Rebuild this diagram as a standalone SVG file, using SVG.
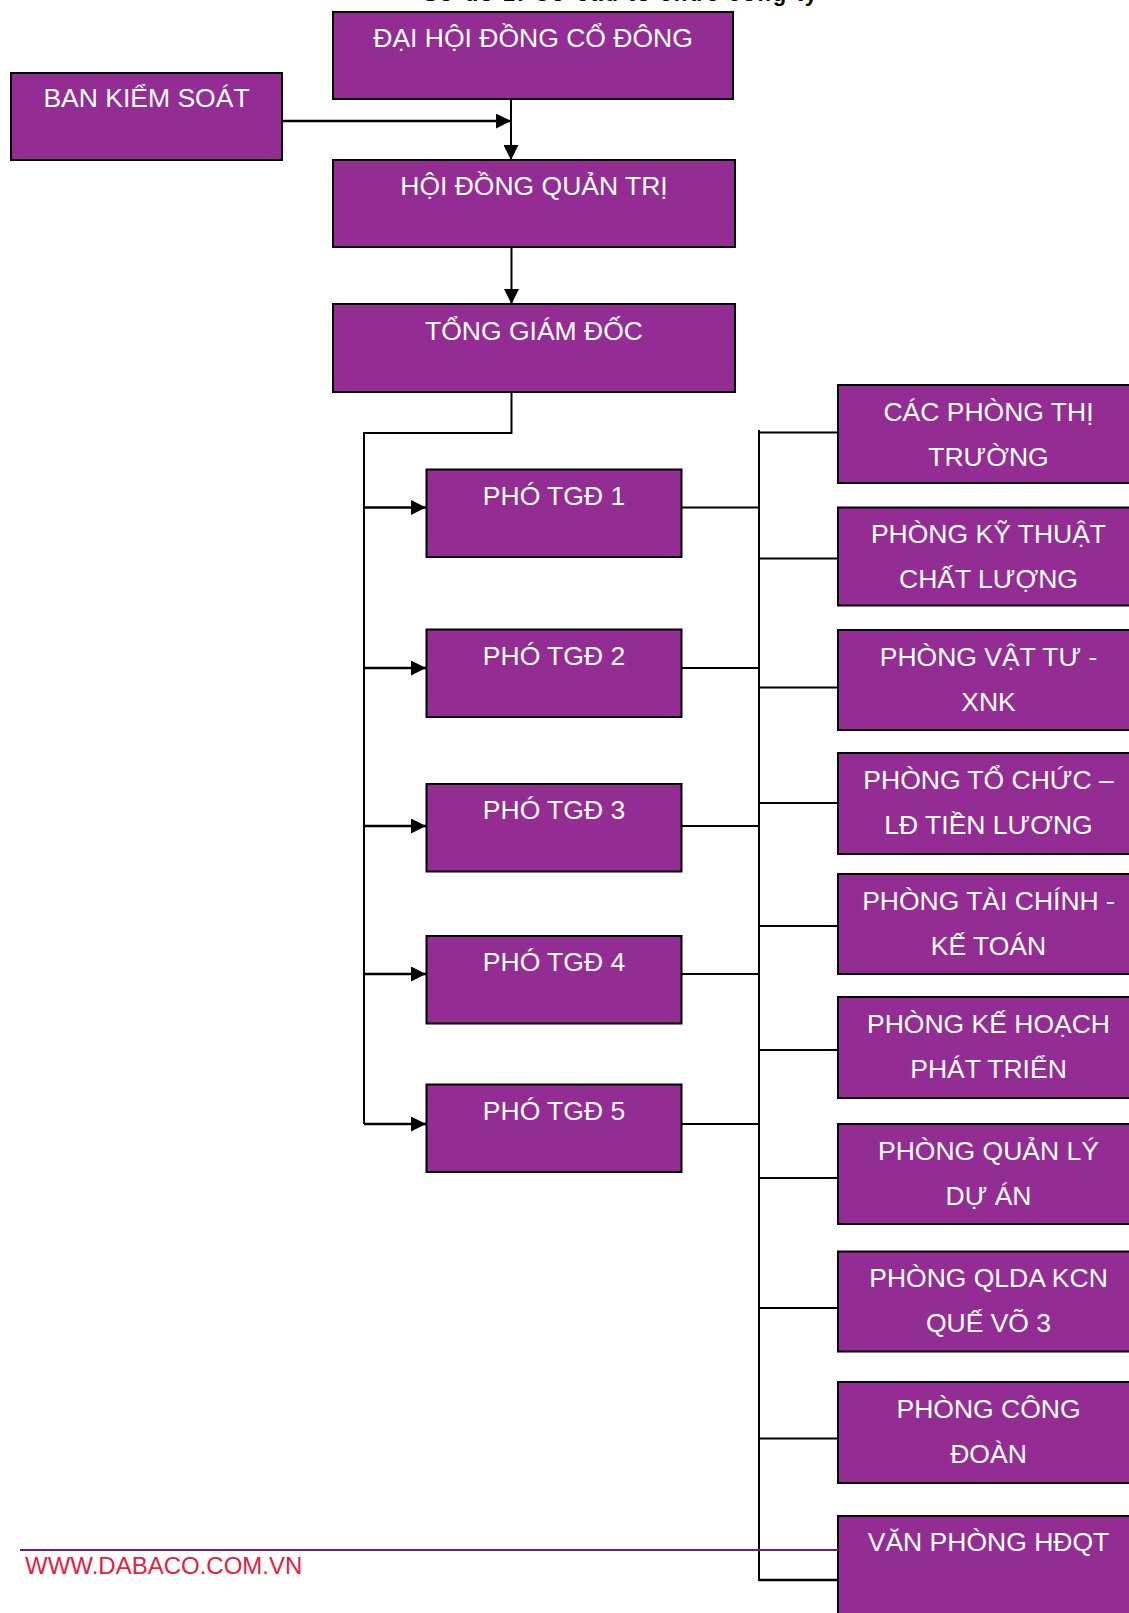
<svg xmlns="http://www.w3.org/2000/svg" width="1129" height="1613" viewBox="0 0 1129 1613">
<style>
.box{fill:#932D93;stroke:#000;stroke-width:2}
.t{font-family:"Liberation Sans",Arial,sans-serif;font-size:26.5px;fill:#fff;text-anchor:middle}
.c{fill:none;stroke:#000;stroke-width:2}
.ca{fill:none;stroke:#000;stroke-width:2.5}
</style>
<defs>
<marker id="ah" markerUnits="userSpaceOnUse" markerWidth="15" markerHeight="15" refX="15" refY="7.5" orient="auto" viewBox="0 0 15 15">
<path d="M0,0 L15,7.5 L0,15 z" fill="#000"/>
</marker>
</defs>
<rect width="1129" height="1613" fill="#fff"/>
<text x="423" y="1" textLength="394" lengthAdjust="spacing" style="font-family:'Liberation Sans',Arial,sans-serif;font-size:22px;font-weight:bold;fill:#000">Sơ đồ 1: Cơ cấu tổ chức công ty</text>

<g id="connectors">
<line class="ca" x1="282" y1="121" x2="511" y2="121" marker-end="url(#ah)"/>
<line class="c" x1="511" y1="99" x2="511" y2="160" marker-end="url(#ah)"/>
<line class="c" x1="511.5" y1="247" x2="511.5" y2="304" marker-end="url(#ah)"/>
<polyline class="c" points="511.5,392 511.5,433 364,433 364,1124"/>
<line class="ca" x1="364" y1="507.5" x2="426" y2="507.5" marker-end="url(#ah)"/>
<line class="ca" x1="364" y1="668" x2="426" y2="668" marker-end="url(#ah)"/>
<line class="ca" x1="364" y1="826" x2="426" y2="826" marker-end="url(#ah)"/>
<line class="ca" x1="364" y1="974" x2="426" y2="974" marker-end="url(#ah)"/>
<line class="ca" x1="364" y1="1124" x2="426" y2="1124" marker-end="url(#ah)"/>
<line class="c" x1="759" y1="430" x2="759" y2="1581"/>
<line class="c" x1="682" y1="507.5" x2="759" y2="507.5"/>
<line class="c" x1="682" y1="668" x2="759" y2="668"/>
<line class="c" x1="682" y1="826" x2="759" y2="826"/>
<line class="c" x1="682" y1="974" x2="759" y2="974"/>
<line class="c" x1="682" y1="1124" x2="759" y2="1124"/>
<line class="c" x1="759" y1="432.5" x2="838" y2="432.5"/>
<line class="c" x1="759" y1="558.5" x2="838" y2="558.5"/>
<line class="c" x1="759" y1="687.5" x2="838" y2="687.5"/>
<line class="c" x1="759" y1="803" x2="838" y2="803"/>
<line class="c" x1="759" y1="926" x2="838" y2="926"/>
<line class="c" x1="759" y1="1050" x2="838" y2="1050"/>
<line class="c" x1="759" y1="1178" x2="838" y2="1178"/>
<line class="c" x1="759" y1="1308" x2="838" y2="1308"/>
<line class="c" x1="759" y1="1438.5" x2="838" y2="1438.5"/>
<line class="ca" x1="759" y1="1580" x2="838" y2="1580"/>
</g>

<g id="dhdcd"><rect class="box" x="333" y="12" width="400" height="87"/><text class="t" x="533" y="46.5">ĐẠI HỘI ĐỒNG CỔ ĐÔNG</text></g>
<g id="bks"><rect class="box" x="11" y="73" width="271" height="87"/><text class="t" x="146.5" y="106.5">BAN KIỂM SOÁT</text></g>
<g id="hdqt"><rect class="box" x="333" y="160" width="402" height="87"/><text class="t" x="534" y="194.5">HỘI ĐỒNG QUẢN TRỊ</text></g>
<g id="tgd"><rect class="box" x="333" y="304" width="402" height="88"/><text class="t" x="534" y="339.5">TỔNG GIÁM ĐỐC</text></g>

<g id="ptgd1"><rect class="box" x="426.5" y="469.5" width="255" height="87.5"/><text class="t" x="554" y="504.5">PHÓ TGĐ 1</text></g>
<g id="ptgd2"><rect class="box" x="426.5" y="629.5" width="255" height="87.5"/><text class="t" x="554" y="664.5">PHÓ TGĐ 2</text></g>
<g id="ptgd3"><rect class="box" x="426.5" y="784" width="255" height="87.5"/><text class="t" x="554" y="819">PHÓ TGĐ 3</text></g>
<g id="ptgd4"><rect class="box" x="426.5" y="936" width="255" height="87.5"/><text class="t" x="554" y="971">PHÓ TGĐ 4</text></g>
<g id="ptgd5"><rect class="box" x="426.5" y="1084.5" width="255" height="87.5"/><text class="t" x="554" y="1119.5">PHÓ TGĐ 5</text></g>

<g id="p1"><rect class="box" x="838" y="385" width="301" height="98"/><text class="t" x="988.5" y="421">CÁC PHÒNG THỊ</text><text class="t" x="988.5" y="465.5">TRƯỜNG</text></g>
<g id="p2"><rect class="box" x="838" y="507.5" width="301" height="98"/><text class="t" x="988.5" y="543">PHÒNG KỸ THUẬT</text><text class="t" x="988.5" y="588">CHẤT LƯỢNG</text></g>
<g id="p3"><rect class="box" x="838" y="630" width="301" height="100"/><text class="t" x="988.5" y="665.5">PHÒNG VẬT TƯ -</text><text class="t" x="988.5" y="710.5">XNK</text></g>
<g id="p4"><rect class="box" x="838" y="753" width="301" height="101"/><text class="t" x="988.5" y="788.5">PHÒNG TỔ CHỨC –</text><text class="t" x="988.5" y="833.5">LĐ TIỀN LƯƠNG</text></g>
<g id="p5"><rect class="box" x="838" y="874" width="301" height="100"/><text class="t" x="988.5" y="909.5">PHÒNG TÀI CHÍNH -</text><text class="t" x="988.5" y="954.5">KẾ TOÁN</text></g>
<g id="p6"><rect class="box" x="838" y="997" width="301" height="101"/><text class="t" x="988.5" y="1032.5">PHÒNG KẾ HOẠCH</text><text class="t" x="988.5" y="1077.5">PHÁT TRIỂN</text></g>
<g id="p7"><rect class="box" x="838" y="1124" width="301" height="100"/><text class="t" x="988.5" y="1159.5">PHÒNG QUẢN LÝ</text><text class="t" x="988.5" y="1204.5">DỰ ÁN</text></g>
<g id="p8"><rect class="box" x="838" y="1251.5" width="301" height="100"/><text class="t" x="988.5" y="1287">PHÒNG QLDA KCN</text><text class="t" x="988.5" y="1332">QUẾ VÕ 3</text></g>
<g id="p9"><rect class="box" x="838" y="1382" width="301" height="101"/><text class="t" x="988.5" y="1417.5">PHÒNG CÔNG</text><text class="t" x="988.5" y="1462.5">ĐOÀN</text></g>
<g id="p10"><rect class="box" x="838" y="1516" width="301" height="110"/><text class="t" x="988.5" y="1551">VĂN PHÒNG HĐQT</text></g>

<line x1="20" y1="1550" x2="838" y2="1550" stroke="#6E1F6E" stroke-width="2"/>
<text x="25" y="1573.5" style="font-family:'Liberation Sans',Arial,sans-serif;font-size:24px;fill:#E3203F">WWW.DABACO.COM.VN</text>
</svg>
